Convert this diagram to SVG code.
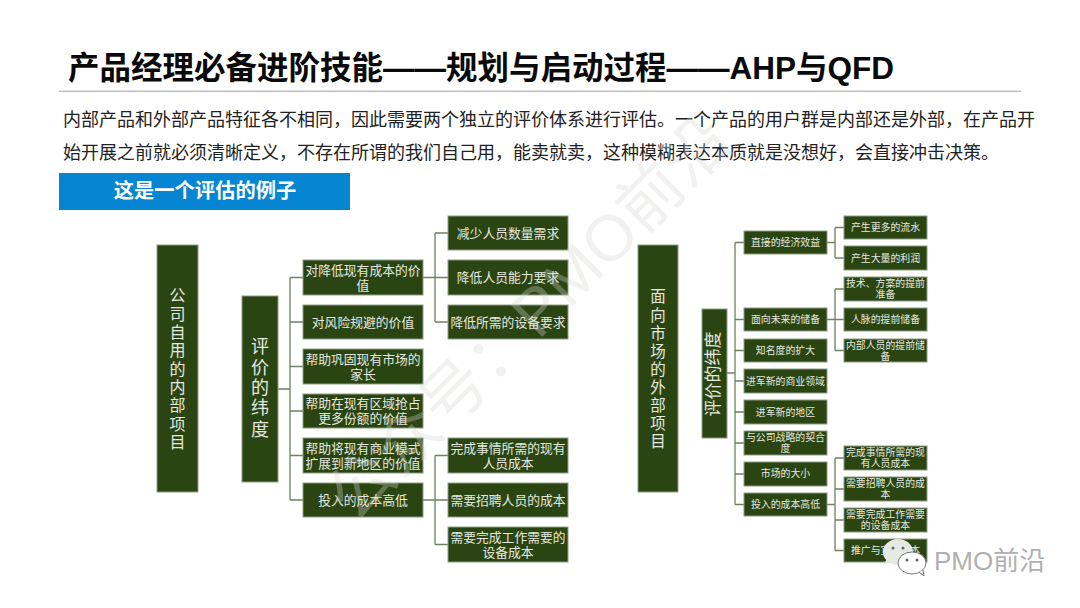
<svg xmlns="http://www.w3.org/2000/svg" width="1080" height="608" viewBox="0 0 1080 608">
<style>
text{font-family:"Liberation Sans","Noto Sans CJK SC",sans-serif}
.n{fill:#2b4512;stroke:#8e9d84;stroke-width:1}
.t{fill:#e4e9e0;text-anchor:middle}
.b{font-size:12.8px}
.c{font-size:9.9px}
.body{font-size:18px;fill:#222}
.l{fill:none;stroke:#6f8160;stroke-width:1.3}
</style>
<rect width="1080" height="608" fill="#fff"/>
<text x="68" y="78.500" font-size="31.500" font-weight="700" fill="#0a0a0a">产品经理必备进阶技能——规划与启动过程——AHP与QFD</text>
<rect x="59" y="90.500" width="962" height="1.600" fill="#c0c0c0"/>
<text class="body" x="63" y="126">内部产品和外部产品特征各不相同，因此需要两个独立的评价体系进行评估。一个产品的用户群是内部还是外部，在产品开</text>
<text class="body" x="63" y="159">始开展之前就必须清晰定义，不存在所谓的我们自己用，能卖就卖，这种模糊表达本质就是没想好，会直接冲击决策。</text>
<g id="banner"><rect x="59" y="173" width="291" height="37" fill="#0585d2"/><text x="205" y="197.500" font-size="20.300" font-weight="700" fill="#fff" text-anchor="middle">这是一个评估的例子</text></g>

<g id="connectors" class="l">
<path d="M278 389H290M290 277.500V500M290 277.500H303M290 322H303M290 366.500H303M290 411H303M290 455.500H303M290 500H303"/>
<path d="M423 277.500H435M435 233V322M435 233H448M435 277.500H448M435 322H448"/>
<path d="M423 500H435M435 455.500V544.500M435 455.500H448M435 500H448M435 544.500H448"/>
<path d="M727 373H735M735 242.500V504.500M735 242.500H744M735 319.500H744M735 350.500H744M735 381H744M735 412H744M735 443H744M735 474H744M735 504.500H744"/>
<path d="M827 242.500H835M835 227.500V258M835 227.500H844M835 258H844"/>
<path d="M827 319.500H835M835 289V350.500M835 289H844M835 319.500H844M835 350.500H844"/>
<path d="M827 504.500H835M835 458V550.500M835 458H844M835 489H844M835 520H844M835 550.500H844"/>
</g>

<g id="l-root"><rect class="n" x="157" y="245" width="41" height="247"/><text class="t" font-size="16"><tspan x="177.500" y="301">公</tspan><tspan x="177.500" y="319.500">司</tspan><tspan x="177.500" y="338">自</tspan><tspan x="177.500" y="356">用</tspan><tspan x="177.500" y="374.500">的</tspan><tspan x="177.500" y="393">内</tspan><tspan x="177.500" y="411">部</tspan><tspan x="177.500" y="429.500">项</tspan><tspan x="177.500" y="448">目</tspan></text></g>
<g id="l-dim"><rect class="n" x="242" y="296" width="36" height="186"/><text class="t" font-size="18"><tspan x="260" y="353">评</tspan><tspan x="260" y="374">价</tspan><tspan x="260" y="394">的</tspan><tspan x="260" y="414">纬</tspan><tspan x="260" y="436">度</tspan></text></g>

<g id="l1"><rect class="n" x="303" y="260" width="120" height="35"/><text class="t b"><tspan x="363" y="275">对降低现有成本的价</tspan><tspan x="363" y="290">值</tspan></text></g>
<g id="l2"><rect class="n" x="303" y="305" width="120" height="34"/><text class="t b" x="363" y="327">对风险规避的价值</text></g>
<g id="l3"><rect class="n" x="303" y="349" width="120" height="35"/><text class="t b"><tspan x="363" y="364">帮助巩固现有市场的</tspan><tspan x="363" y="379">家长</tspan></text></g>
<g id="l4"><rect class="n" x="303" y="394" width="120" height="34"/><text class="t b"><tspan x="363" y="408">帮助在现有区域抢占</tspan><tspan x="363" y="423">更多份额的价值</tspan></text></g>
<g id="l5"><rect class="n" x="303" y="438" width="120" height="35"/><text class="t b"><tspan x="363" y="453">帮助将现有商业模式</tspan><tspan x="363" y="468">扩展到新地区的价值</tspan></text></g>
<g id="l6"><rect class="n" x="303" y="483" width="120" height="34"/><text class="t b" x="363" y="505">投入的成本高低</text></g>

<g id="l1a"><rect class="n" x="448" y="216" width="120" height="34"/><text class="t b" x="508" y="238">减少人员数量需求</text></g>
<g id="l1b"><rect class="n" x="448" y="260" width="120" height="35"/><text class="t b" x="508" y="282">降低人员能力要求</text></g>
<g id="l1c"><rect class="n" x="448" y="305" width="120" height="34"/><text class="t b" x="508" y="327">降低所需的设备要求</text></g>
<g id="l6a"><rect class="n" x="448" y="438" width="120" height="35"/><text class="t b"><tspan x="508" y="453">完成事情所需的现有</tspan><tspan x="508" y="468">人员成本</tspan></text></g>
<g id="l6b"><rect class="n" x="448" y="483" width="120" height="34"/><text class="t b" x="508" y="505">需要招聘人员的成本</text></g>
<g id="l6c"><rect class="n" x="448" y="527" width="120" height="35"/><text class="t b"><tspan x="508" y="542">需要完成工作需要的</tspan><tspan x="508" y="557">设备成本</tspan></text></g>

<g id="r-root"><rect class="n" x="638" y="245" width="40" height="247"/><text class="t" font-size="15.500"><tspan x="658" y="301.500">面</tspan><tspan x="658" y="320.500">向</tspan><tspan x="658" y="338.500">市</tspan><tspan x="658" y="356.500">场</tspan><tspan x="658" y="374.500">的</tspan><tspan x="658" y="392.500">外</tspan><tspan x="658" y="410.500">部</tspan><tspan x="658" y="428.500">项</tspan><tspan x="658" y="446.500">目</tspan></text></g>
<g id="r-dim"><rect class="n" x="702" y="309" width="25" height="129"/><text class="t" font-size="17" transform="translate(719 374) rotate(-90)" x="0" y="0">评价的纬度</text></g>

<g id="r1"><rect class="n" x="744" y="231" width="83" height="23"/><text class="t c" x="785.500" y="246">直接的经济效益</text></g>
<g id="r2"><rect class="n" x="744" y="308" width="83" height="23"/><text class="t c" x="785.500" y="323">面向未来的储备</text></g>
<g id="r3"><rect class="n" x="744" y="339" width="83" height="23"/><text class="t c" x="785.500" y="354">知名度的扩大</text></g>
<g id="r4"><rect class="n" x="744" y="369" width="83" height="24"/><text class="t c" x="785.500" y="385">进军新的商业领域</text></g>
<g id="r5"><rect class="n" x="744" y="400" width="83" height="24"/><text class="t c" x="785.500" y="416">进军新的地区</text></g>
<g id="r6"><rect class="n" x="744" y="431" width="83" height="24"/><text class="t c"><tspan x="785.500" y="441">与公司战略的契合</tspan><tspan x="785.500" y="452">度</tspan></text></g>
<g id="r7"><rect class="n" x="744" y="462" width="83" height="24"/><text class="t c" x="785.500" y="477">市场的大小</text></g>
<g id="r8"><rect class="n" x="744" y="493" width="83" height="23"/><text class="t c" x="785.500" y="508">投入的成本高低</text></g>

<g id="r1a"><rect class="n" x="844" y="216" width="83" height="23"/><text class="t c" x="885.500" y="231">产生更多的流水</text></g>
<g id="r1b"><rect class="n" x="844" y="246" width="83" height="24"/><text class="t c" x="885.500" y="262">产生大量的利润</text></g>
<g id="r2a"><rect class="n" x="844" y="277" width="83" height="24"/><text class="t c"><tspan x="885.500" y="287">技术、方案的提前</tspan><tspan x="885.500" y="298">准备</tspan></text></g>
<g id="r2b"><rect class="n" x="844" y="308" width="83" height="23"/><text class="t c" x="885.500" y="323">人脉的提前储备</text></g>
<g id="r2c"><rect class="n" x="844" y="339" width="83" height="23"/><text class="t c"><tspan x="885.500" y="349">内部人员的提前储</tspan><tspan x="885.500" y="360">备</tspan></text></g>
<g id="r8a"><rect class="n" x="844" y="446" width="83" height="24"/><text class="t c"><tspan x="885.500" y="456">完成事情所需的现</tspan><tspan x="885.500" y="467">有人员成本</tspan></text></g>
<g id="r8b"><rect class="n" x="844" y="477" width="83" height="24"/><text class="t c"><tspan x="885.500" y="487">需要招聘人员的成</tspan><tspan x="885.500" y="498">本</tspan></text></g>
<g id="r8c"><rect class="n" x="844" y="508" width="83" height="24"/><text class="t c"><tspan x="885.500" y="518">需要完成工作需要</tspan><tspan x="885.500" y="529">的设备成本</tspan></text></g>
<g id="r8d"><rect class="n" x="844" y="539" width="83" height="23"/><text class="t c" x="885.500" y="554">推广与宣传成本</text></g>

<g id="watermark"><text font-size="65" text-anchor="middle" transform="translate(545 334) rotate(-45)" style="fill:#d4d8d0;fill-opacity:.32">公众号：PMO前沿</text></g>
<g id="wechat">
<ellipse cx="898" cy="552" rx="15" ry="13" fill="#e7eae4"/>
<path d="M889 562l-6 3 4-6z" fill="#e7eae4"/>
<circle cx="893" cy="548" r="1.500" fill="#666"/><circle cx="903" cy="548" r="1.500" fill="#666"/>
<ellipse cx="912" cy="563" rx="14" ry="11" fill="#fff" stroke="#7a7a7a" stroke-width="1"/>
<path d="M919 572l5 4-1-6" fill="#fff" stroke="#7a7a7a" stroke-width="1"/>
<circle cx="907" cy="560" r="1.500" fill="#666"/><circle cx="917" cy="560" r="1.500" fill="#666"/>
<text x="934" y="570" font-size="26" fill="#b0b0b0">PMO前沿</text>
</g>
</svg>
